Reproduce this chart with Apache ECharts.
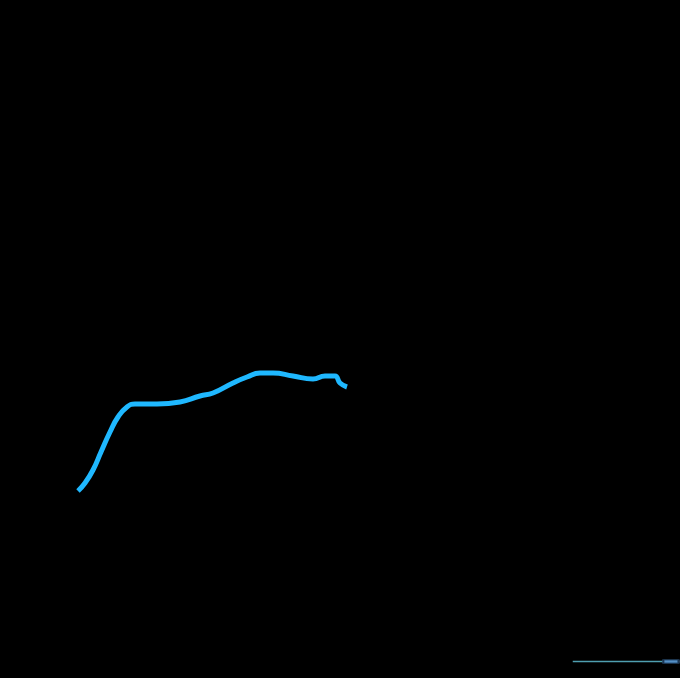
<!DOCTYPE html>
<html>
<head>
<meta charset="utf-8">
<script src="https://cdn.jsdelivr.net/npm/echarts@6/dist/echarts.min.js"></script>
<style>
html,body{margin:0;padding:0;background:#000;}
#chart{width:680px;height:678px;}
</style>
</head>
<body>
<div id="chart"></div>
<script>
// x positions (arbitrary units) and values of the blue line
const xValues = [0, 7, 15, 23, 32, 40, 49, 57, 79, 102, 122, 135, 155, 169, 182, 195, 215, 235, 247, 257, 262, 269];
const yValues = [87, 95, 108, 126, 146, 161, 171, 174, 174, 176, 182, 185, 195, 201, 205, 205, 202, 199, 202, 202, 195, 191];
// overview strip under the zoom slider (appears flat in the reference)
const sliderX = [0, 50, 100];
const sliderY = [0, 0, 0];

const lineData = xValues.map((x, i) => [x, yValues[i]]);
const sliderData = sliderX.map((x, i) => [x, sliderY[i]]);

const chart = echarts.init(document.getElementById('chart'));
chart.setOption({
  backgroundColor: '#000',
  animation: false,
  grid: { left: 78, top: 278, width: 300, height: 300 },
  xAxis: [
    { type: 'value', min: 0, max: 300, show: false },
    { type: 'value', show: false, gridIndex: 0 }
  ],
  yAxis: [
    { type: 'value', min: 0, max: 300, show: false },
    { type: 'value', show: false }
  ],
  dataZoom: [{
    type: 'slider',
    xAxisIndex: 1,
    left: 570, right: 3, bottom: 15, height: 4,
    start: 84, end: 100,
    showDetail: false,
    borderColor: 'transparent',
    backgroundColor: 'transparent',
    fillerColor: 'rgba(70,130,190,0.8)',
    moveHandleSize: 0,
    handleSize: '120%',
    handleStyle: { color: '#2a5a88', borderColor: '#1a3048' },
    dataBackground: {
      lineStyle: { color: '#4f9fb0', width: 1.5, opacity: 1 },
      areaStyle: { opacity: 0 }
    },
    selectedDataBackground: {
      lineStyle: { color: '#8fc8e0', width: 1.5 },
      areaStyle: { opacity: 0 }
    }
  }],
  series: [
    {
      type: 'line',
      data: lineData,
      smooth: true,
      showSymbol: false,
      lineStyle: { color: '#1fb8ff', width: 5 }
    },
    {
      type: 'line',
      xAxisIndex: 1,
      yAxisIndex: 1,
      data: sliderData,
      showSymbol: false,
      lineStyle: { opacity: 0 },
      silent: true
    }
  ]
});
</script>
</body>
</html>
